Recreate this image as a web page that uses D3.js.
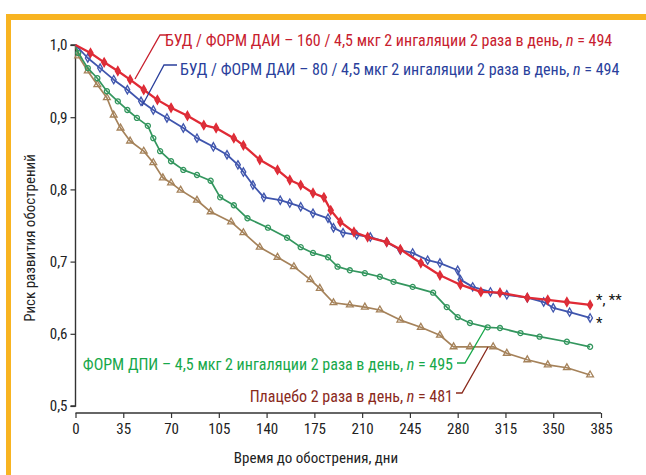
<!DOCTYPE html>
<html>
<head>
<meta charset="utf-8">
<script src="https://cdn.jsdelivr.net/npm/d3@7"></script>
<style>
  html, body { margin: 0; padding: 0; background: #ffffff; }
  svg { display: block; }
  text { font-family: "Liberation Sans Narrow", "Arial Narrow", "Roboto Condensed", "Liberation Sans", sans-serif; }
</style>
</head>
<body>
<svg id="chart" width="646" height="475"></svg>
<script>
// ---- data ----
const xTicks = [0, 35, 70, 105, 140, 175, 210, 245, 280, 315, 350, 385];
const yTicks = [0.5, 0.6, 0.7, 0.8, 0.9, 1.0];
const yTickLabels = ["0,5", "0,6", "0,7", "0,8", "0,9", "1,0"];

const redDays  = [0, 11, 21, 31, 40, 50, 60, 70, 82, 94, 103, 116, 123, 135, 148, 157, 165, 174, 182, 187, 194, 204, 214, 228, 238, 253, 267, 282, 297, 311, 331, 346, 360, 377];
const redVals  = [1.000, 0.989, 0.976, 0.964, 0.952, 0.938, 0.924, 0.913, 0.902, 0.889, 0.885, 0.871, 0.861, 0.841, 0.827, 0.813, 0.806, 0.795, 0.789, 0.771, 0.755, 0.741, 0.734, 0.727, 0.717, 0.698, 0.681, 0.668, 0.658, 0.657, 0.650, 0.647, 0.644, 0.640];

const blueDays = [0, 9, 18, 28, 38, 48, 57, 67, 79, 89, 101, 111, 119, 123, 130, 138, 150, 157, 165, 174, 185, 189, 196, 206, 216, 228, 238, 247, 258, 267, 280, 282, 291, 304, 316, 331, 343, 350, 362, 377];
const blueVals = [1.000, 0.982, 0.968, 0.952, 0.938, 0.922, 0.910, 0.899, 0.885, 0.871, 0.859, 0.848, 0.834, 0.824, 0.806, 0.789, 0.785, 0.781, 0.776, 0.767, 0.760, 0.747, 0.740, 0.737, 0.734, 0.727, 0.716, 0.712, 0.702, 0.698, 0.688, 0.675, 0.665, 0.658, 0.654, 0.650, 0.644, 0.636, 0.630, 0.622];

const greenDays = [0, 2, 9, 16, 23, 31, 38, 45, 53, 57, 62, 70, 79, 89, 99, 106, 116, 126, 141, 155, 165, 174, 185, 192, 201, 212, 223, 233, 247, 262, 272, 280, 289, 302, 311, 326, 340, 360, 377];
const greenVals = [1.000, 0.989, 0.968, 0.954, 0.936, 0.922, 0.910, 0.899, 0.888, 0.871, 0.853, 0.839, 0.827, 0.820, 0.812, 0.789, 0.778, 0.760, 0.747, 0.733, 0.720, 0.712, 0.706, 0.693, 0.688, 0.684, 0.679, 0.672, 0.665, 0.657, 0.637, 0.623, 0.615, 0.609, 0.608, 0.601, 0.596, 0.589, 0.582];

const brownDays = [0, 2, 9, 16, 23, 28, 33, 40, 50, 57, 64, 70, 77, 89, 99, 114, 123, 135, 148, 160, 172, 179, 189, 201, 212, 223, 238, 253, 267, 277, 289, 306, 316, 331, 346, 360, 377];
const brownVals = [1.000, 0.985, 0.964, 0.945, 0.927, 0.903, 0.885, 0.867, 0.853, 0.837, 0.816, 0.809, 0.799, 0.785, 0.769, 0.755, 0.740, 0.720, 0.706, 0.693, 0.675, 0.663, 0.643, 0.640, 0.637, 0.633, 0.619, 0.609, 0.598, 0.582, 0.582, 0.582, 0.573, 0.564, 0.557, 0.553, 0.543];

const seriesNames = [
  "БУД / ФОРМ ДАИ – 160 / 4,5 мкг 2 ингаляции 2 раза в день, ",
  "БУД / ФОРМ ДАИ – 80 / 4,5 мкг 2 ингаляции 2 раза в день, ",
  "ФОРМ ДПИ – 4,5 мкг 2 ингаляции 2 раза в день, ",
  "Плацебо 2 раза в день, "
];
const seriesN = ["494", "494", "495", "481"];
const xTitle = "Время до обострения, дни";
const yTitle = "Риск развития обострений";

// ---- drawing ----
const svg = d3.select("#chart");
const x = d3.scaleLinear().domain([0, 385]).range([75.5, 601]);
const y = d3.scaleLinear().domain([0.5, 1.0]).range([406, 45]);
const xAxisY = 413;

// orange frame
svg.append("rect").attr("x", 6).attr("y", 14).attr("width", 640).attr("height", 6).attr("fill", "#f8b421");
svg.append("rect").attr("x", 6).attr("y", 14).attr("width", 5).attr("height", 461).attr("fill", "#f8b421");

// y axis
const yAxis = d3.axisLeft(y).tickValues(yTicks).tickFormat((d, i) => yTickLabels[i]).tickSize(5).tickPadding(3);
const gy = svg.append("g").attr("transform", `translate(${x(0)},0)`).call(yAxis);
gy.select(".domain").attr("d", `M-5,${y(0.5)}H0V${y(1.0)}H-5`).attr("stroke", "#333").attr("stroke-width", 1.4);
gy.selectAll(".tick line").attr("stroke", "#333").attr("stroke-width", 1.2);
gy.selectAll(".tick text").attr("font-size", 15).attr("fill", "#222");

// x axis
const xAxis = d3.axisBottom(x).tickValues(xTicks).tickSize(5).tickPadding(5);
const gx = svg.append("g").attr("transform", `translate(0,${xAxisY})`).call(xAxis);
gx.select(".domain").attr("d", `M${x(0)},0H${x(385)}`).attr("stroke", "#333").attr("stroke-width", 1.4);
gx.selectAll(".tick line").attr("stroke", "#333").attr("stroke-width", 1.2);
gx.selectAll(".tick text").attr("font-size", 15).attr("fill", "#222");

// titles
svg.append("text").attr("x", 316).attr("y", 463).attr("text-anchor", "middle").attr("font-size", 15).attr("fill", "#222").text(xTitle);
svg.append("text").attr("transform", `translate(35,238) rotate(-90)`).attr("text-anchor", "middle").attr("font-size", 15).attr("fill", "#222").text(yTitle);

// curves
const series = [
  { days: brownDays, vals: brownVals, color: "#a5825a", sym: d3.symbolTriangle, fill: "none", size: 20, w: 1.7 },
  { days: greenDays, vals: greenVals, color: "#33965e", sym: d3.symbolCircle, fill: "none", size: 20, w: 1.7 },
  { days: blueDays,  vals: blueVals,  color: "#3f55ad", sym: d3.symbolDiamond, fill: "none", size: 20, w: 1.8 },
  { days: redDays,   vals: redVals,   color: "#e02a35", sym: d3.symbolDiamond, fill: "#d8323c", size: 22, w: 2.3 }
];
const line = d3.line().x(d => x(d[0])).y(d => y(d[1])).curve(d3.curveLinear);
series.forEach(s => {
  const pts = s.days.map((d, i) => [d, s.vals[i]]);
  svg.append("path").datum(pts).attr("d", line).attr("fill", "none").attr("stroke", s.color).attr("stroke-width", s.w).attr("stroke-linejoin", "round");
  svg.append("g").selectAll("path").data(pts.slice(1)).join("path")
    .attr("transform", d => `translate(${x(d[0])},${y(d[1])})`)
    .attr("d", d3.symbol().type(s.sym).size(s.size))
    .attr("fill", s.fill).attr("stroke", s.color).attr("stroke-width", 1.3);
});

// annotations
const labelCfg = [
  { x: 165, y: 46, color: "#c8202e", line: [[168,35],[160,35],[135,79]], anchor: "start" },
  { x: 180, y: 75, color: "#2a3f9c", line: [[177,65],[164,65],[142,106]], anchor: "start" },
  { x: 453, y: 370, color: "#17a84a", line: [[457,363],[465,363],[486,327]], anchor: "end" },
  { x: 453, y: 402, color: "#8a2a1c", line: [[456,393],[462,393],[488,347]], anchor: "end" }
];
labelCfg.forEach((c, i) => {
  svg.append("path").attr("d", d3.line()(c.line)).attr("fill", "none").attr("stroke", c.color).attr("stroke-width", 1.3);
  const t = svg.append("text").attr("x", c.x).attr("y", c.y).attr("text-anchor", c.anchor).attr("font-size", 16).attr("fill", c.color);
  t.append("tspan").text(seriesNames[i]);
  t.append("tspan").attr("font-style", "italic").text("n");
  t.append("tspan").text(" = " + seriesN[i]);
});

// significance markers
svg.append("text").attr("x", 596).attr("y", 305).attr("font-size", 15).attr("fill", "#111").text("*, **");
svg.append("text").attr("x", 596).attr("y", 328).attr("font-size", 15).attr("fill", "#111").text("*");
</script>
</body>
</html>
